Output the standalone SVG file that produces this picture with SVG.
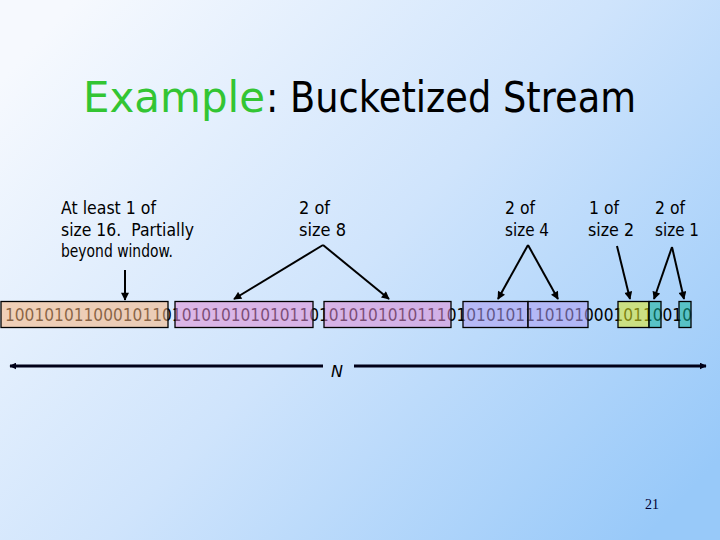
<svg xmlns="http://www.w3.org/2000/svg" width="720" height="540" viewBox="0 0 720 540">
<defs>
<linearGradient id="bg" x1="0" y1="0.15" x2="1" y2="0.85">
<stop offset="0" stop-color="#F6F9FE"/>
<stop offset="0.5" stop-color="#CFE4FC"/>
<stop offset="1" stop-color="#98C9F9"/>
</linearGradient>
<marker id="ah" viewBox="0 0 10 10" refX="9" refY="5" markerWidth="9" markerHeight="8" markerUnits="userSpaceOnUse" orient="auto">
<path d="M0,0 L10,5 L0,10 z" fill="#000"/>
</marker>
<marker id="ah2" viewBox="0 0 10 10" refX="9" refY="5" markerWidth="7" markerHeight="7" markerUnits="userSpaceOnUse" orient="auto-start-reverse">
<path d="M0,0 L10,5 L0,10 z" fill="#000018"/>
</marker>
</defs>
<style>
.lbl{font-family:"DejaVu Sans","Liberation Sans",sans-serif;font-size:17px;fill:#000}
.ttl{font-family:"DejaVu Sans","Liberation Sans",sans-serif;font-size:43px}
.bits{font-family:"DejaVu Sans","Liberation Sans",sans-serif;font-size:15.4px;fill:#000}
.box{stroke:#000;stroke-width:1.3;fill-opacity:0.55}
.arr{stroke:#000;stroke-width:2;fill:none;marker-end:url(#ah)}
</style>
<rect x="0" y="0" width="720" height="540" fill="url(#bg)"/>
<g id="title">
<text class="ttl" x="83" y="112" fill="#33C533" textLength="182" lengthAdjust="spacingAndGlyphs">Example</text>
<text class="ttl" x="266" y="112" fill="#000" textLength="370" lengthAdjust="spacingAndGlyphs">: Bucketized Stream</text>
</g>
<g id="label-16">
<text class="lbl" x="61" y="214" textLength="95" lengthAdjust="spacingAndGlyphs">At least 1 of</text>
<text class="lbl" x="61" y="235.5" textLength="133" lengthAdjust="spacingAndGlyphs" xml:space="preserve">size 16.  Partially</text>
<text class="lbl" x="61" y="257" textLength="112" lengthAdjust="spacingAndGlyphs">beyond window.</text>
</g>
<g id="label-8">
<text class="lbl" x="299" y="214" textLength="31" lengthAdjust="spacingAndGlyphs">2 of</text>
<text class="lbl" x="299" y="235.5" textLength="47" lengthAdjust="spacingAndGlyphs">size 8</text>
</g>
<g id="label-4">
<text class="lbl" x="505" y="214" textLength="30" lengthAdjust="spacingAndGlyphs">2 of</text>
<text class="lbl" x="505" y="235.5" textLength="44" lengthAdjust="spacingAndGlyphs">size 4</text>
</g>
<g id="label-2">
<text class="lbl" x="589" y="214" textLength="30" lengthAdjust="spacingAndGlyphs">1 of</text>
<text class="lbl" x="588" y="235.5" textLength="46" lengthAdjust="spacingAndGlyphs">size 2</text>
</g>
<g id="label-1">
<text class="lbl" x="655" y="214" textLength="30" lengthAdjust="spacingAndGlyphs">2 of</text>
<text class="lbl" x="655" y="235.5" textLength="44" lengthAdjust="spacingAndGlyphs">size 1</text>
</g>
<g id="stream">
<text class="bits" x="5" y="0" transform="translate(0,321) scale(1,1.17)" textLength="687" lengthAdjust="spacingAndGlyphs">1001010110001011010101010101011010101010101110101010111010100010110010</text>
</g>
<g id="buckets">
<rect id="b16" class="box" x="1" y="301.5" width="167" height="26" fill="#F7B47E"/>
<rect id="b8a" class="box" x="175" y="301.5" width="138" height="26" fill="#DE8CD6"/>
<rect id="b8b" class="box" x="324" y="301.5" width="127" height="26" fill="#DE8CD6"/>
<rect id="b4a" class="box" x="463" y="301.5" width="65" height="26" fill="#AE9CF2"/>
<rect id="b4b" class="box" x="528" y="301.5" width="60" height="26" fill="#AE9CF2"/>
<rect id="b2" class="box" x="618" y="301.5" width="31" height="26" fill="#E2EA20"/>
<rect id="b1a" class="box" x="649" y="301.5" width="12" height="26" fill="#14B49A"/>
<rect id="b1b" class="box" x="679" y="301.5" width="12" height="26" fill="#14B49A"/>
</g>
<g id="connectors">
<line class="arr" x1="125" y1="270" x2="125" y2="300"/>
<line class="arr" x1="323" y1="245" x2="234" y2="299"/>
<line class="arr" x1="323" y1="245" x2="389" y2="299"/>
<line class="arr" x1="528" y1="245" x2="498" y2="299"/>
<line class="arr" x1="528" y1="245" x2="558" y2="299"/>
<line class="arr" x1="617" y1="246" x2="630" y2="299"/>
<line class="arr" x1="672" y1="247" x2="654" y2="299"/>
<line class="arr" x1="672" y1="247" x2="684" y2="299"/>
<line x1="10" y1="366" x2="323" y2="366" stroke="#000018" stroke-width="3" marker-start="url(#ah2)"/>
<line x1="354" y1="366" x2="706" y2="366" stroke="#000018" stroke-width="3" marker-end="url(#ah2)"/>
</g>
<g id="window-label">
<text x="331" y="377" font-family="DejaVu Sans, Liberation Sans, sans-serif" font-size="16" font-style="italic" fill="#000">N</text>
</g>
<g id="page">
<text x="645" y="509" font-family="Liberation Serif, serif" font-size="14" fill="#000033">21</text>
</g>
</svg>
